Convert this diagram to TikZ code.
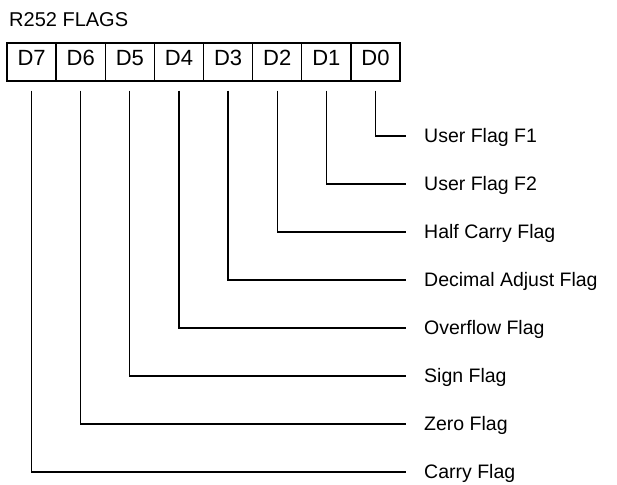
\documentclass[tikz,border=0pt]{standalone}
\usepackage{fontspec}
\setmainfont{Liberation Sans}
\usepackage{tikz}
\usetikzlibrary{calc}
\tikzset{
  bit/.style={draw,line width=1.3pt,minimum width=49.1pt,minimum height=38pt,inner sep=0pt,text height=15pt,text depth=7pt,font=\fontsize{22}{24}\selectfont},
  flg/.style={anchor=west,inner sep=0pt,text height=13.5pt,text depth=0pt,font=\fontsize{19.5}{22}\selectfont},
  ln/.style={line width=1.3pt,shorten <=9pt,shorten >=18pt}
}
\begin{document}
\begin{tikzpicture}[x=1pt,y=1pt]
\useasboundingbox (0,0) rectangle (617,-484);
\node[anchor=base west,inner sep=0pt,font=\fontsize{20}{22}\selectfont] (ttl) at (9,-27) {R252 FLAGS};
% register cells
\foreach \b [count=\i from 0] in {7,...,0}
  \node[bit] (d\b) at ({7+49.125*(\i+0.5)},-62) {D\b};
% flag names
\foreach \b/\t in {0/User Flag F1,1/User Flag F2,2/Half Carry Flag,3/Decimal Adjust Flag,4/Overflow Flag,5/Sign Flag,6/Zero Flag,7/Carry Flag}
  \node[flg] (f\b) at (424,{-136-48*\b}) {\t};
\foreach \b in {0,...,7}
  \draw[ln] (d\b.south) |- (f\b.west);
\end{tikzpicture}
\end{document}
